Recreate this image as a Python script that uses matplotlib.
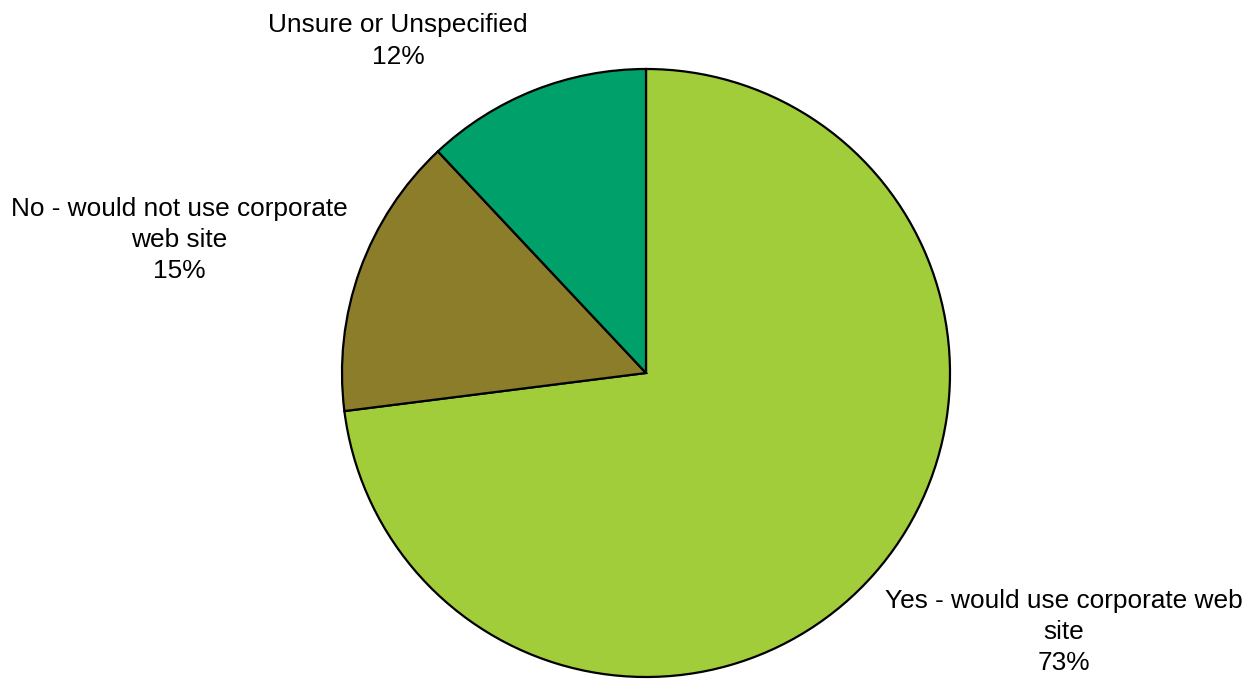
import matplotlib.pyplot as plt

plt.rcParams['font.family'] = ['Liberation Sans', 'DejaVu Sans']

# survey answers, going clockwise from 12 o'clock
labels = ["Yes - would use corporate web\nsite",
          "No - would not use corporate\nweb site",
          "Unsure or Unspecified"]
values = [73, 15, 12]
colors = ["#A2CD3A", "#8B7D2A", "#00A06A"]

# label anchor points (pixel layout, y measured from the top)
label_pos = [(1064, 632), (179, 240), (398, 41)]

W, H = 1258, 679
fig = plt.figure(figsize=(W / 100, H / 100), dpi=100)
ax = fig.add_axes([0, 0, 1, 1])

ax.pie(values, colors=colors, startangle=90, counterclock=False,
       center=(646, H - 373), radius=304,
       wedgeprops=dict(edgecolor='black', linewidth=1.6))

# pie() rescales the axes, so pin them to the pixel grid afterwards
ax.set_xlim(0, W)
ax.set_ylim(0, H)
ax.set_aspect('equal')
ax.axis('off')

for lab, val, (x, y) in zip(labels, values, label_pos):
    ax.text(x, H - y, f"{lab}\n{val}%", ha='center', va='center',
            multialignment='center', fontsize=18.9, linespacing=1.39,
            color='black')

fig.savefig("out.png", dpi=100)
